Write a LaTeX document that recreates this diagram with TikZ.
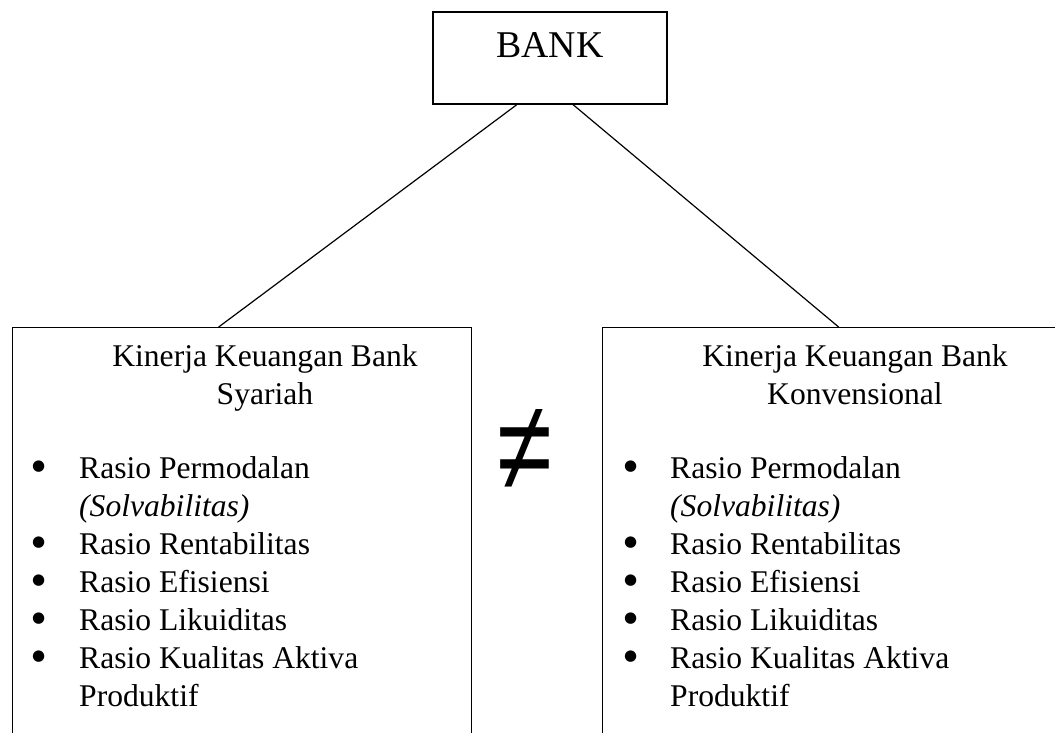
\documentclass[tikz,border=0pt]{standalone}
\usepackage{fontspec}
\usepackage{graphicx}
\setmainfont{Liberation Serif}
\newfontfamily\symfont{Liberation Sans}
\newfontfamily\dotfont{DejaVu Sans}
\usetikzlibrary{calc}
\newcommand{\bul}{\raisebox{8pt}{\dotfont\fontsize{15}{15}\selectfont ●}}
\tikzset{
  frame/.style={draw, line width=1.3pt, rectangle, inner sep=0pt},
  body/.style={inner sep=0pt, font=\fontsize{31.6}{38}\selectfont},
  link/.style={line width=1.2pt},
}
\begin{document}
\begin{tikzpicture}[x=1pt,y=-1pt]
\useasboundingbox (0,0) rectangle (1055,732);
\clip (0,0) rectangle (1055,732);
% top box
\node[frame, minimum width=234pt, minimum height=92pt] (bank) at (550,58) {};
\node[inner sep=0pt, anchor=base, font=\fontsize{37.8}{44}\selectfont] (banktext) at (550,57) {BANK};
% lower boxes (open at the bottom of the picture)
\node[frame, anchor=north west, minimum width=459pt, minimum height=460pt] (left) at (12,327) {};
\node[frame, anchor=north west, minimum width=500pt, minimum height=460pt] (right) at (602,327) {};
% connectors
\draw[link] ($(bank.south west)!0.359!(bank.south east)$) -- ($(left.north west)!0.449!(left.north east)$);
\draw[link] ($(bank.south west)!0.598!(bank.south east)$) -- ($(right.north west)!0.472!(right.north east)$);
% titles
\node[body, anchor=base] (lefttitle) at (265,366) {\begin{tabular}[t]{@{}c@{}}Kinerja Keuangan Bank\\Syariah\end{tabular}};
\node[body, anchor=base] (righttitle) at (855,366) {\begin{tabular}[t]{@{}c@{}}Kinerja Keuangan Bank\\Konvensional\end{tabular}};
% lists
\node[body, anchor=base west] (leftlist) at (32,478) {\begin{tabular}[t]{@{}p{47pt}@{}l@{}}
\bul & Rasio Permodalan\\
 & \textit{(Solvabilitas)}\\
\bul & Rasio Rentabilitas\\
\bul & Rasio Efisiensi\\
\bul & Rasio Likuiditas\\
\bul & Rasio Kualitas Aktiva\\
 & Produktif
\end{tabular}};
\node[body, anchor=base west] (rightlist) at (624,478) {\begin{tabular}[t]{@{}p{46pt}@{}l@{}}
\bul & Rasio Permodalan\\
 & \textit{(Solvabilitas)}\\
\bul & Rasio Rentabilitas\\
\bul & Rasio Efisiensi\\
\bul & Rasio Likuiditas\\
\bul & Rasio Kualitas Aktiva\\
 & Produktif
\end{tabular}};
% not-equal sign
\node[inner sep=0pt, font=\symfont\fontsize{100}{100}\selectfont] (neq) at (525,450) {\scalebox{1}[1.28]{≠}};
\end{tikzpicture}
\end{document}
